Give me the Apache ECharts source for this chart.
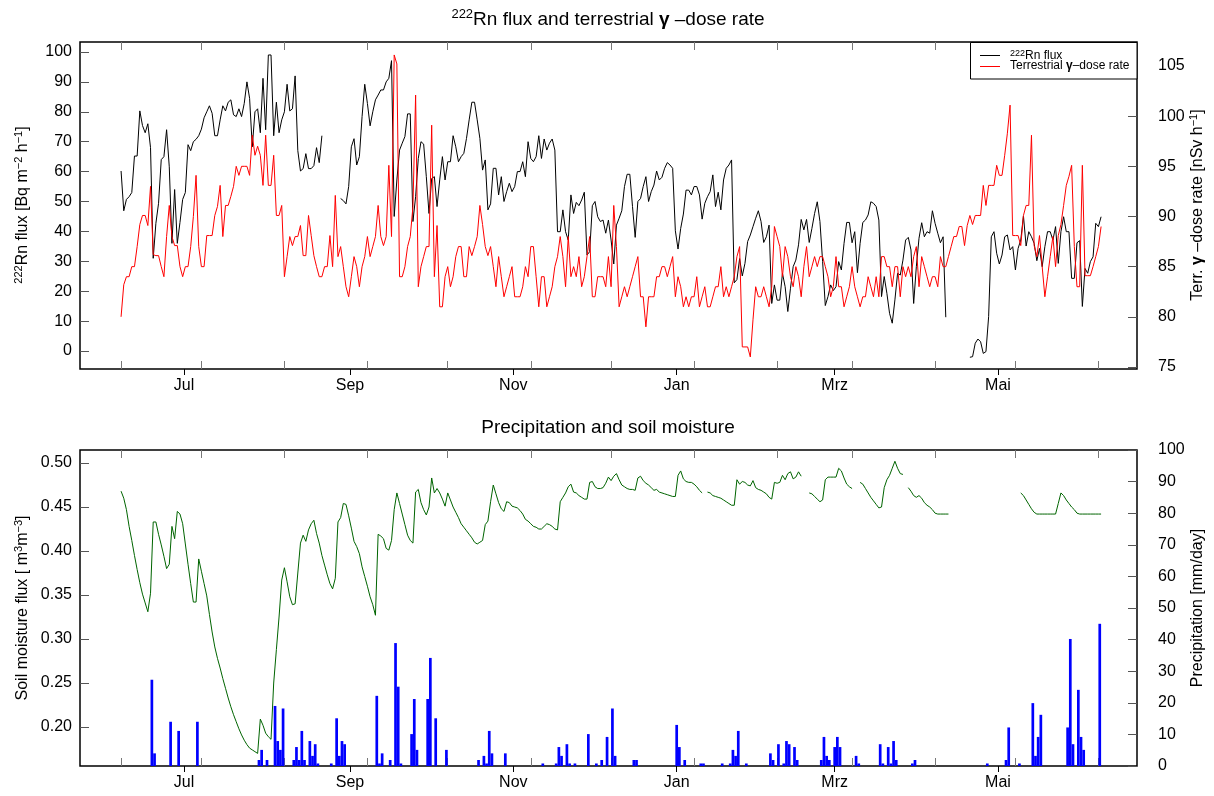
<!DOCTYPE html>
<html><head><meta charset="utf-8">
<script src="https://cdn.jsdelivr.net/npm/echarts@6/dist/echarts.min.js"></script>
<style>html,body{margin:0;padding:0;background:#fff}#c{width:1214px;height:796px}</style>
</head><body><div id="c"></div>
<script>
// ---------------- data (daily, day 0 = 2010-06-07) ----------------
const startDate = '2010-06-07';

const rnFlux = [60.2,46.9,50.7,51.6,53,65.2,65.2,80.3,75.4,73,
76,68,31,42.7,49.4,64,65,74,61.6,36,
54,36,43,50.7,53,69,67,70,70.8,72,
74.2,78,80,82,79.5,72,72,77.3,82,80.3,
83.2,84,79,78.4,81,78.4,82.8,90,84.5,68.3,
80,81,73,91.2,74,99,99,72,83.2,73,
77.3,80,89.2,80.3,81,92,67,60.2,61,66,
61,61,62,68,63,72,null,null,null,null,
null,null,51,50.3,49.2,55,68.3,71,62.2,65,
78.4,89.2,82.8,75.3,80,84,85.6,87.3,87.3,90,
91.2,97.1,45,57.2,67.2,69.5,71.7,79.3,79.3,43.3,
51.6,64.4,70,69.2,58.3,46,57.7,58.3,48.3,57.2,
65,57.2,63.3,63.3,72,68.3,63.3,65,66.1,71.1,
77.3,83.2,83.2,77.3,71.1,60.5,63.9,47.2,49.2,61.1,
61.1,52.2,58.3,50,53.3,56.1,53.3,55,60,60,
63.3,58.3,70,64.4,63.3,65,72,64.4,70.9,67.2,
69.5,70.9,67.2,39.9,39.9,47.2,39.9,37.1,52.2,46,
49.7,48.6,50.5,53.1,32.1,33.2,48.6,50,44.9,43.3,
43.8,39.4,43.8,37.1,29.1,42.1,44.4,46.9,55,59.1,
59.1,48.3,38,50,51,55,58.3,50,53.3,55.5,
60.2,57.2,58.1,61.1,63,62.2,61.1,40.2,34.1,41,
45.8,53.8,53.8,52.2,55,55,52.2,44.1,49.4,51.6,
53.3,58.9,48.3,53.1,47.2,57.2,61.1,62.2,63.9,22.8,
23.9,30.9,25.1,29.3,36.6,38.8,41.6,44.4,46.9,43.3,
36.3,38.2,42.1,15.9,22.1,17,17,26,21.5,13.2,
21,28.2,30.4,35.5,44,40.5,44,36.3,41,46,
49.9,43.3,29.9,15.2,18.2,22.1,20.2,21.5,29.9,27.1,
36,43,43,36.2,39.9,26.2,36,43,43.8,45.5,
49.9,49.4,48.3,43.8,18.2,24.9,19.3,12.6,9.3,17.1,
26,25.4,30.4,37.1,38,33.8,15.9,28.2,37.7,42.9,
38.2,39.9,39.4,46.9,42.7,39.4,36.2,38.2,11.3,null,
null,null,null,null,null,null,null,-2.1,-1.9,2.6,
4,3.1,-0.8,-0.2,11.5,38.2,39.9,32.7,29.1,32.1,
38.2,38.8,33.8,34.9,27.1,34.3,37.1,45.2,35.1,39.9,
38.2,36,30.2,34.3,28.2,34.9,39.9,39.9,37.1,41.6,
29.3,39.9,44.9,39.9,39.9,24.3,24.3,36.2,36.9,14.9,
27.6,26,29.9,31.5,42.7,41.6,44.9];

const gammaDose = [80.0,83.2,84.0,84.0,85.0,85.0,87.0,89.2,90.1,90.1,
89.1,93.0,86.2,86.1,86.1,85.0,84.0,88.0,91.1,88.0,
87.1,87.1,85.0,84.0,85.0,85.0,87.0,90.0,94.1,87.0,
85.0,85.0,88.1,88.1,88.1,90.1,91.0,93.1,88.0,91.1,
91.1,92.0,93.0,95.0,94.1,95.0,95.0,95.0,94.1,98.1,
96.1,97.0,96.1,93.1,98.1,93.1,93.1,96.1,90.1,90.1,
91.1,84.0,86.0,88.0,87.1,88.0,88.0,89.1,86.1,86.1,
90.1,88.1,86.1,85.0,84.0,84.0,85.0,85.0,88.1,85.0,
92.1,86.0,87.0,85.0,83.0,82.0,84.0,86.0,85.0,83.0,
85.0,86.0,88.0,86.0,87.0,88.0,91.1,88.0,87.1,88.0,
95.1,88.0,106.1,105.2,84.0,84.0,85.0,87.0,88.0,91.0,
102.1,83.0,85.0,86.0,87.0,87.0,99.1,84.0,89.1,81.0,
81.0,84.0,85.0,83.0,84.0,86.0,87.0,87.0,84.0,84.0,
87.0,86.1,87.0,88.0,91.1,89.2,87.0,86.1,87.0,85.0,
83.0,86.0,84.0,82.0,83.0,84.0,85.0,82.0,82.0,82.0,
83.0,85.0,84.0,87.0,87.0,84.0,81.0,84.0,84.0,81.0,
82.0,83.0,85.0,86.0,88.0,86.0,83.0,88.0,84.0,85.0,
84.0,86.0,83.0,84.0,86.0,88.0,82.0,82.0,84.0,84.0,
84.0,83.0,86.0,83.0,91.1,87.0,81.0,82.0,83.0,82.0,
83.0,84.0,85.0,86.0,82.0,82.0,79.0,82.0,82.0,82.0,
84.0,84.0,85.0,85.0,84.0,85.0,86.0,82.0,84.0,83.0,
81.0,82.0,81.0,82.0,82.0,84.0,81.0,82.0,83.0,81.0,
81.0,82.0,83.0,83.0,85.0,82.0,83.0,82.0,83.0,84.0,
86.0,87.0,77.0,77.0,77.0,76.0,79.7,83.0,82.0,82.0,
83.0,82.0,81.0,83.0,89.0,88.0,87.0,84.0,87.0,86.0,
84.0,83.0,85.0,84.0,82.0,85.0,87.0,84.0,85.0,86.0,
85.0,86.0,86.0,85.0,84.0,82.0,83.0,86.0,83.0,83.0,
81.0,82.0,83.0,85.0,83.0,82.0,81.0,82.0,82.0,84.0,
83.0,82.0,84.0,82.0,86.0,86.0,85.0,85.0,83.0,85.0,
85.0,82.0,85.0,84.0,85.0,84.0,86.0,87.0,83.0,86.0,
85.0,84.0,83.0,84.0,84.0,83.0,86.0,85.0,85.0,86.0,
87.0,88.0,88.0,89.0,89.0,87.1,89.1,90.1,89.2,90.1,
90.1,90.1,93.1,91.1,93.1,93.1,93.1,95.1,94.1,94.1,
96.1,98.3,101.1,88.1,88.1,88.1,87.1,90.1,91.1,91.1,
98.1,87.1,86.0,88.1,85.0,82.0,84.0,86.0,88.0,85.0,
88.1,89.2,91.1,93.1,94.0,95.1,87.0,83.0,83.0,95.1,
84.1,84.1,84.1,85.0,86.0,87.0,89.0];

const soilMoisture = [0.468,0.460,0.447,0.428,0.412,0.395,0.379,0.364,0.351,0.341,
0.331,0.352,0.433,0.433,0.419,0.407,0.394,0.380,0.385,0.428,
0.414,0.445,0.442,0.431,0.408,0.385,0.363,0.342,0.342,0.391,
0.377,0.363,0.349,0.328,0.308,0.291,0.278,0.267,0.255,0.244,
0.233,0.223,0.214,0.206,0.198,0.191,0.185,0.180,0.176,0.174,
0.172,0.170,0.209,0.202,0.193,0.189,0.186,0.250,0.288,0.325,
0.367,0.381,0.365,0.348,0.339,0.340,0.375,0.409,0.418,0.411,
0.424,0.431,0.435,0.420,0.409,0.395,0.384,0.373,0.363,0.357,
0.369,0.433,0.438,0.454,0.453,0.440,0.426,0.411,0.405,0.397,
0.382,0.371,0.360,0.348,0.339,0.327,0.419,0.417,0.414,0.403,
0.401,0.412,0.447,0.466,0.454,0.442,0.430,0.418,0.412,0.409,
0.467,0.470,0.455,0.447,0.441,0.450,0.483,0.466,0.471,0.466,
0.459,0.451,0.466,0.458,0.450,0.444,0.438,0.431,0.427,0.423,
0.419,0.415,0.410,0.408,0.410,0.412,0.430,0.434,0.456,0.475,
0.465,0.455,0.448,0.445,0.456,0.455,0.451,0.450,0.449,0.446,
0.442,0.436,0.434,0.431,0.428,0.427,0.425,0.425,0.428,0.431,
0.430,0.428,0.425,0.424,0.456,0.461,0.466,0.473,0.476,0.467,
0.466,0.463,0.461,0.459,0.459,0.478,0.479,0.473,0.471,0.471,
0.472,0.477,0.484,0.480,0.485,0.488,0.481,0.475,0.473,0.471,
0.470,0.470,0.469,0.483,0.485,0.480,0.477,0.475,0.472,0.469,
0.470,0.467,0.466,0.465,0.464,0.463,0.462,0.462,0.486,0.491,
0.482,0.479,0.478,0.478,0.476,0.473,0.469,0.466,null,0.467,
0.466,0.463,0.462,0.461,0.460,0.458,0.456,0.454,0.452,0.452,
0.481,0.476,0.479,0.478,0.475,0.474,0.480,0.472,0.470,0.469,
0.467,0.465,0.461,0.459,0.478,0.477,0.478,0.486,0.481,0.488,
0.490,0.482,0.484,0.490,0.485,null,null,0.466,0.465,0.462,
0.459,0.456,0.458,0.481,0.484,0.484,0.484,0.484,0.494,0.491,
0.483,0.476,0.473,0.471,null,null,0.478,0.476,0.471,0.466,
0.461,0.457,0.453,0.449,0.450,0.472,0.481,0.486,0.494,0.502,
0.494,0.488,0.487,null,0.472,0.468,0.463,0.461,0.463,0.460,
0.455,0.452,0.450,0.447,0.443,0.442,0.442,0.442,0.442,0.442,
null,null,null,null,null,null,null,null,null,null,
null,null,null,null,null,null,null,null,null,null,
null,null,null,null,null,null,0.466,0.463,0.458,0.453,
0.448,0.444,0.442,0.442,0.442,0.442,0.442,0.442,0.442,0.442,
0.454,0.466,0.463,0.458,0.454,0.450,0.447,0.443,0.442,0.442,
0.442,0.442,0.442,0.442,0.442,0.442,0.442];

const rainDay = [11,12,18,21,28,51,52,54,57,58,59,60,64,65,66,67,68,70,71,72,73,78,80,81,82,83,95,96,97,100,
102,103,104,108,109,110,114,115,117,121,133,135,136,137,138,143,157,162,163,164,166,167,169,174,177,179,181,183,184,191,192,
207,208,210,216,217,224,227,228,229,230,233,242,243,245,247,248,249,251,252,261,262,263,264,266,267,268,274,275,
283,284,286,287,288,289,295,296,323,330,331,335,340,341,342,343,353,354,355,357,358,359,365];
const rainMm = [27.3,4.0,14.0,11.1,14.0,1.9,5.1,1.9,19.0,7.9,5.1,18.2,1.9,6.0,1.9,11.1,1.9,7.9,3.2,6.9,0.8,0.8,15.1,3.2,7.9,6.9,22.2,0.8,4.0,1.9,
38.9,25.1,0.8,10.1,21.2,5.1,21.2,34.2,15.1,5.1,1.9,3.2,0.8,11.1,4.0,4.0,0.8,0.8,6.0,3.2,6.9,0.8,0.8,10.1,0.8,1.9,9.2,18.2,3.2,1.9,1.9,
13.0,6.0,1.9,0.8,0.8,0.8,0.8,5.1,3.2,11.1,0.8,4.0,1.9,6.9,0.8,7.9,6.9,6.0,1.9,1.9,9.2,3.2,1.9,6.0,9.2,6.0,3.2,0.8,
6.9,0.8,6.0,0.8,7.9,1.9,0.8,1.9,0.8,1.9,12.2,0.8,19.9,3.2,9.2,16.2,12.2,40.2,6.9,24.1,9.2,5.1,45.0];

const monthTickDates = ['2010-07-01','2010-09-01','2010-11-01','2011-01-01','2011-03-01','2011-05-01'];
const monthTickLabels = ['Jul','Sep','Nov','Jan','Mrz','Mai'];
const innerTickDates = ['2010-06-07','2010-07-07','2010-08-07','2010-09-07','2010-10-07','2010-11-07','2010-12-07',
  '2011-01-07','2011-02-07','2011-03-07','2011-04-07','2011-05-07','2011-06-07'];
const rnTicks = [0,10,20,30,40,50,60,70,80,90,100];
const gammaTicks = [75,80,85,90,95,100,105];
const soilTicks = [0.20,0.25,0.30,0.35,0.40,0.45,0.50];
const rainTicks = [0,10,20,30,40,50,60,70,80,90,100];

// ---------------- build ----------------
const DAY = 86400000;
const t0 = Date.parse(startDate + 'T12:00:00Z');
const ts = d => t0 + d * DAY;
const monthTs = monthTickDates.map(s => Date.parse(s + 'T00:00:00Z'));
const innerTs = innerTickDates.map(s => Date.parse(s + 'T12:00:00Z'));
const xMin = monthTs[0] - 38.84 * DAY;
const xMax = monthTs[5] + 51.91 * DAY;
const FONT = 'Liberation Sans, Arial, Helvetica, sans-serif';

function xAxesFor(g) {
  const base = {type: 'value', gridIndex: g, min: xMin, max: xMax, scale: true, splitLine: {show: false},
    axisLine: {show: false, onZero: false}};
  return [
    Object.assign({}, base, {
      position: 'bottom',
      axisTick: {show: true, inside: false, length: 6, customValues: monthTs, lineStyle: {color: '#000', width: 1}},
      axisLabel: {show: true, customValues: monthTs, margin: 9, fontSize: 16, color: '#000', fontFamily: FONT,
        formatter: v => { const i = monthTs.indexOf(v); return i >= 0 ? monthTickLabels[i] : ''; }}
    }),
    Object.assign({}, base, {
      position: 'bottom',
      axisTick: {show: true, inside: true, length: 8, customValues: innerTs, lineStyle: {color: '#777', width: 1}},
      axisLabel: {show: false}
    }),
    Object.assign({}, base, {
      position: 'top',
      axisTick: {show: true, inside: true, length: 8, customValues: innerTs, lineStyle: {color: '#777', width: 1}},
      axisLabel: {show: false}
    })
  ];
}
function yAxis(g, pos, min, max, ticks, margin, fmt) {
  return {
    type: 'value', gridIndex: g, position: pos, min: min, max: max, scale: true,
    splitLine: {show: false}, axisLine: {show: false, onZero: false},
    axisTick: {show: true, inside: true, length: 9, customValues: ticks, lineStyle: {color: '#555', width: 1}},
    axisLabel: {show: true, customValues: ticks, margin: margin, fontSize: 16, color: '#000', fontFamily: FONT,
      formatter: fmt || (v => String(v))}
  };
}

const sup = {fontSize: 11, verticalAlign: 'top', lineHeight: 20, fontFamily: FONT, fill: '#000'};
function vText(x, y, text, rich) {
  return {type: 'text', x: x, y: y, rotation: Math.PI / 2, z: 100,
    style: {text: text, fontSize: 16, fontFamily: FONT, fill: '#000', align: 'center', verticalAlign: 'middle',
      lineHeight: 20, rich: rich || {sup: sup}}};
}

const option = {
  animation: false,
  backgroundColor: '#fff',
  textStyle: {fontFamily: FONT},
  grid: [
    {left: 80, right: 77, top: 42, height: 327, show: true, borderColor: '#000', borderWidth: 1.5, backgroundColor: 'transparent'},
    {left: 80, right: 77, top: 450, height: 316, show: true, borderColor: '#000', borderWidth: 1.5, backgroundColor: 'transparent'}
  ],
  xAxis: xAxesFor(0).concat(xAxesFor(1)),
  yAxis: [
    yAxis(0, 'left', -6.02, 103.34, rnTicks, 8),
    yAxis(0, 'right', 74.80, 107.39, gammaTicks, 21),
    yAxis(1, 'left', 0.1557, 0.5148, soilTicks, 8, v => v.toFixed(2)),
    yAxis(1, 'right', 0, 100, rainTicks, 21)
  ],
  series: [
    {type: 'line', name: 'Rn flux', xAxisIndex: 0, yAxisIndex: 0, showSymbol: false, symbol: 'none',
      data: rnFlux.map((v, i) => [ts(i), v]), lineStyle: {color: '#000', width: 1}, itemStyle: {color: '#000'}, z: 3},
    {type: 'line', name: 'gamma', xAxisIndex: 0, yAxisIndex: 1, showSymbol: false, symbol: 'none',
      data: gammaDose.map((v, i) => [ts(i), v]), lineStyle: {color: '#ff0000', width: 1}, itemStyle: {color: '#ff0000'}, z: 4},
    {type: 'bar', name: 'Precipitation', xAxisIndex: 3, yAxisIndex: 3, barWidth: 2.7,
      data: rainDay.map((d, i) => [ts(d) + DAY / 2, rainMm[i]]), itemStyle: {color: '#0000ff'}, z: 3},
    {type: 'line', name: 'Soil moisture', xAxisIndex: 3, yAxisIndex: 2, showSymbol: false, symbol: 'none',
      data: soilMoisture.map((v, i) => [ts(i), v]), lineStyle: {color: '#006400', width: 1}, itemStyle: {color: '#006400'}, z: 4}
  ],
  graphic: [
    {type: 'text', x: 608, y: 20, z: 100,
      style: {text: '{sup|222}Rn flux and terrestrial {g|γ} –dose rate', fontSize: 19, fontFamily: FONT, fill: '#000',
        align: 'center', verticalAlign: 'middle', lineHeight: 24,
        rich: {sup: {fontSize: 13, verticalAlign: 'top', lineHeight: 24, fontFamily: FONT},
               g: {fontSize: 19, fontWeight: 'bold', lineHeight: 24, fontFamily: FONT}}}},
    {type: 'text', x: 608, y: 428, z: 100,
      style: {text: 'Precipitation and soil moisture', fontSize: 19, fontFamily: FONT, fill: '#000', align: 'center', verticalAlign: 'middle'}},
    vText(23, 205, '{sup|222}Rn flux [Bq m{sup|−2} h{sup|−1}]'),
    vText(1198, 205, 'Terr. {g|γ} –dose rate [nSv h{sup|−1}]', {sup: sup, g: {fontSize: 16, fontWeight: 'bold', lineHeight: 20, fontFamily: FONT}}),
    vText(23, 608, 'Soil moisture flux [ m{sup|3}m{sup|−3}]'),
    vText(1198, 608, 'Precipitation [mm/day]'),
    {type: 'rect', z: 100, shape: {x: 970.5, y: 42.5, width: 166.5, height: 36.5},
      style: {fill: '#fff', stroke: '#000', lineWidth: 1}},
    {type: 'line', z: 101, shape: {x1: 980, y1: 55.5, x2: 1000, y2: 55.5}, style: {stroke: '#000', lineWidth: 1}},
    {type: 'line', z: 101, shape: {x1: 980, y1: 66.5, x2: 1000, y2: 66.5}, style: {stroke: '#ff0000', lineWidth: 1}},
    {type: 'text', z: 101, x: 1010, y: 56,
      style: {text: '{sup|222}Rn flux', fontSize: 12, fontFamily: FONT, fill: '#000', align: 'left', verticalAlign: 'middle', lineHeight: 14,
        rich: {sup: {fontSize: 9, verticalAlign: 'top', lineHeight: 14, fontFamily: FONT}}}},
    {type: 'text', z: 101, x: 1010, y: 66,
      style: {text: 'Terrestrial {g|γ}–dose rate', fontSize: 12, fontFamily: FONT, fill: '#000', align: 'left', verticalAlign: 'middle', lineHeight: 14,
        rich: {g: {fontSize: 12, fontWeight: 'bold', lineHeight: 14, fontFamily: FONT}}}}
  ]
};

const chart = echarts.init(document.getElementById('c'), null, {renderer: 'canvas'});
chart.setOption(option);
</script>
</body></html>
